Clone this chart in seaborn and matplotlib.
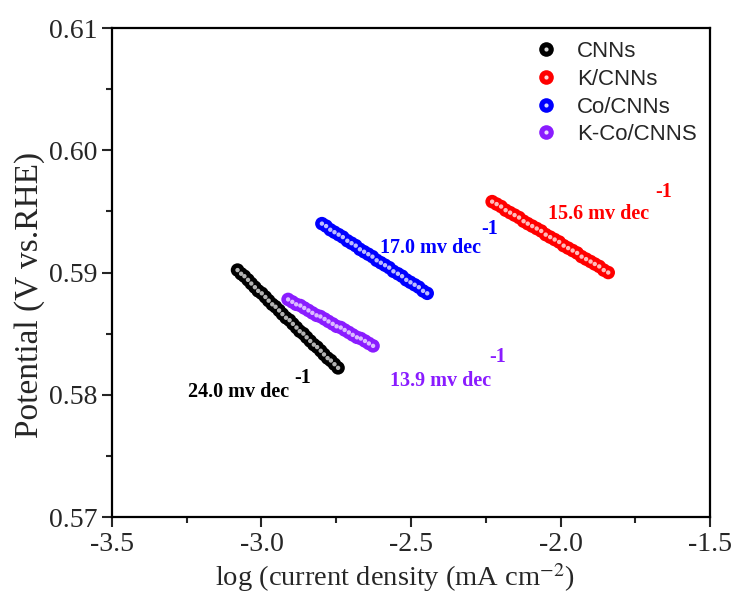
import numpy as np
import pandas as pd
import seaborn as sns
import matplotlib
matplotlib.use("Agg")
import matplotlib.pyplot as plt
from matplotlib.lines import Line2D
from matplotlib.legend_handler import HandlerTuple
from matplotlib.ticker import MultipleLocator

sns.set_style("ticks")
plt.rcParams['font.family'] = ['Liberation Serif', 'DejaVu Serif']
plt.rcParams['mathtext.fontset'] = 'stix'

cnn_x = [-3.080, -3.068, -3.057, -3.045, -3.034, -3.022, -3.011, -2.999, -2.987, -2.976,
         -2.964, -2.953, -2.941, -2.930, -2.918, -2.906, -2.895, -2.883, -2.872, -2.860,
         -2.849, -2.837, -2.825, -2.814, -2.802, -2.791, -2.779, -2.768, -2.756, -2.744]
cnn_y = [0.5902, 0.5899, 0.5897, 0.5894, 0.5891, 0.5888, 0.5885, 0.5883, 0.5880, 0.5877,
         0.5874, 0.5872, 0.5869, 0.5866, 0.5863, 0.5861, 0.5858, 0.5855, 0.5852, 0.5850,
         0.5847, 0.5844, 0.5841, 0.5839, 0.5836, 0.5833, 0.5830, 0.5828, 0.5825, 0.5822]
k_x = [-2.229, -2.214, -2.199, -2.184, -2.169, -2.154, -2.139, -2.124, -2.110, -2.095,
       -2.080, -2.065, -2.050, -2.035, -2.020, -2.005, -1.990, -1.975, -1.960, -1.945,
       -1.930, -1.915, -1.900, -1.886, -1.871, -1.856, -1.841]
k_y = [0.5958, 0.5956, 0.5954, 0.5951, 0.5949, 0.5947, 0.5945, 0.5942, 0.5940, 0.5938,
       0.5936, 0.5934, 0.5931, 0.5929, 0.5927, 0.5925, 0.5922, 0.5920, 0.5918, 0.5916,
       0.5913, 0.5911, 0.5909, 0.5907, 0.5905, 0.5902, 0.5900]
co_x = [-2.798, -2.784, -2.770, -2.756, -2.742, -2.728, -2.713, -2.699, -2.685, -2.671,
        -2.657, -2.643, -2.629, -2.615, -2.601, -2.587, -2.573, -2.559, -2.544, -2.530,
        -2.516, -2.502, -2.488, -2.474, -2.460, -2.446]
co_y = [0.5940, 0.5938, 0.5935, 0.5933, 0.5931, 0.5929, 0.5926, 0.5924, 0.5922, 0.5919,
        0.5917, 0.5915, 0.5913, 0.5910, 0.5908, 0.5906, 0.5904, 0.5901, 0.5899, 0.5897,
        0.5894, 0.5892, 0.5890, 0.5888, 0.5885, 0.5883]
kco_x = [-2.911, -2.897, -2.884, -2.870, -2.857, -2.843, -2.830, -2.816, -2.803, -2.789,
         -2.776, -2.762, -2.749, -2.735, -2.722, -2.708, -2.695, -2.681, -2.668, -2.654,
         -2.641, -2.627]
kco_y = [0.5878, 0.5876, 0.5874, 0.5873, 0.5871, 0.5869, 0.5867, 0.5865, 0.5864, 0.5862,
         0.5860, 0.5858, 0.5856, 0.5855, 0.5853, 0.5851, 0.5849, 0.5847, 0.5846, 0.5844,
         0.5842, 0.5840]

labels = ["CNNs", "K/CNNs", "Co/CNNs", "K-Co/CNNS"]
colors = ["#000000", "#ff0000", "#0000ff", "#8a1cff"]
highlights = ["#b4b4b4", "#ffbcbc", "#bcbcff", "#dcbcff"]
slopes = ["24.0 mv dec", "15.6 mv dec", "17.0 mv dec", "13.9 mv dec"]

frames = []
for lab, xs, ys in zip(labels, [cnn_x, k_x, co_x, kco_x], [cnn_y, k_y, co_y, kco_y]):
    frames.append(pd.DataFrame({"x": xs, "y": ys, "sample": lab}))
df = pd.concat(frames, ignore_index=True)

fig = plt.figure(figsize=(7.36, 5.97), dpi=100)
ax = fig.add_axes([0.152, 0.134, 0.813, 0.819])

pal = dict(zip(labels, colors))
hpal = dict(zip(labels, highlights))
sns.scatterplot(data=df, x="x", y="y", hue="sample", palette=pal, s=95,
                edgecolor="none", linewidth=0, legend=False, ax=ax, zorder=3)
sns.scatterplot(data=df, x="x", y="y", hue="sample", palette=hpal, s=10,
                edgecolor="none", linewidth=0, legend=False, ax=ax, zorder=4)

# slope annotations (text, superscript placed apart as in original)
text_pos = [(-3.246, 0.5802), (-2.042, 0.5948), (-2.604, 0.5920), (-2.570, 0.5811)]
sup_pos = [(-2.861, 0.5814), (-1.657, 0.5966), (-2.236, 0.5936), (-2.212, 0.5831)]
for s, c, tp, sp in zip(slopes, colors, text_pos, sup_pos):
    ax.text(tp[0], tp[1], s, color=c, fontsize=14.5, fontweight='bold', ha='left', va='center')
    ax.text(sp[0], sp[1], "-1", color=c, fontsize=14.5, fontweight='bold', ha='center', va='center')

ax.set_xlim(-3.5, -1.5)
ax.set_ylim(0.57, 0.61)
ax.xaxis.set_major_locator(MultipleLocator(0.5))
ax.xaxis.set_minor_locator(MultipleLocator(0.25))
ax.yaxis.set_major_locator(MultipleLocator(0.01))
ax.yaxis.set_minor_locator(MultipleLocator(0.005))
ax.set_xticklabels([f"{v:.1f}" for v in ax.get_xticks()])
ax.set_yticklabels([f"{v:.2f}" for v in ax.get_yticks()])
ax.tick_params(which='major', direction='out', length=7, width=1.5, labelsize=20,
               top=False, right=False)
ax.tick_params(which='minor', direction='out', length=4, width=1.5, top=False, right=False)
for sp in ax.spines.values():
    sp.set_visible(True)
    sp.set_linewidth(1.6)
    sp.set_color('black')

ax.set_xlabel("log (current density (mA cm$^{-2}$)", fontsize=20.5)
ax.set_ylabel("Potential (V vs.RHE)", fontsize=24)
ax.xaxis.set_label_coords(0.473, -0.09)
ax.yaxis.set_label_coords(-0.112, 0.454)

handles = []
for c, h in zip(colors, highlights):
    big = Line2D([], [], marker='o', linestyle='none', markersize=10.5,
                 markerfacecolor=c, markeredgecolor='none')
    small = Line2D([], [], marker='o', linestyle='none', markersize=3,
                   markerfacecolor='white', markeredgecolor='none', alpha=0.85)
    handles.append((big, small))
leg = ax.legend(handles, labels, handler_map={tuple: HandlerTuple(ndivide=1)},
                loc='upper left', bbox_to_anchor=(0.67, 1.005), frameon=False,
                prop={'family': 'Liberation Sans', 'size': 16},
                handlelength=1.6, handletextpad=0.6, labelspacing=0.3, borderaxespad=0.3)

fig.savefig("out.png", dpi=100)
